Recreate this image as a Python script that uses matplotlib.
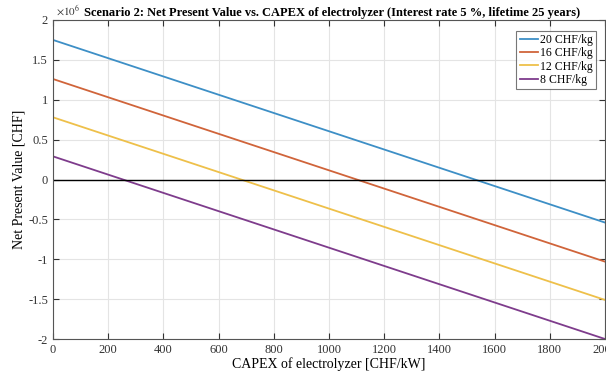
import matplotlib
matplotlib.use('Agg')
import matplotlib.pyplot as plt

plt.rcParams['font.family'] = ['Liberation Serif', 'DejaVu Serif']
plt.rcParams['mathtext.fontset'] = 'stix'

# CAPEX of electrolyzer [CHF/kW] and NPV [x1e6 CHF] at each end
capex = [0, 2000]
npv_20 = [1.75, -0.54]
npv_16 = [1.26, -1.03]
npv_12 = [0.78, -1.51]
npv_8 = [0.29, -2.00]
labels = ['20 CHF/kg', '16 CHF/kg', '12 CHF/kg', '8 CHF/kg']
colors = ['#3d8fc6', '#d0643a', '#eec04a', '#7e3c8c']

fig = plt.figure(figsize=(6.06, 3.75), dpi=100)
ax = fig.add_axes([53/606, 36/375, 552/606, 319/375])

for y, lab, c in zip([npv_20, npv_16, npv_12, npv_8], labels, colors):
    ax.plot(capex, y, color=c, lw=1.3, label=lab)
ax.axhline(0, color='black', lw=1.0)

ax.set_xlim(0, 2000)
ax.set_ylim(-2, 2)
ax.set_xticks(range(0, 2001, 200))
ax.set_yticks([-2, -1.5, -1, -0.5, 0, 0.5, 1, 1.5, 2])
ax.set_yticklabels(['-2', '-1.5', '-1', '-0.5', '0', '0.5', '1', '1.5', '2'])
ax.grid(True, color='#e4e4e4', lw=0.8)
ax.set_axisbelow(True)
ax.tick_params(direction='in', top=True, right=True, labelsize=9, colors='#333333', length=4)
for s in ax.spines.values():
    s.set_color('#555555')

ax.set_xlabel('CAPEX of electrolyzer [CHF/kW]', fontsize=10, labelpad=1)
ax.set_ylabel('Net Present Value [CHF]', fontsize=10, labelpad=2)
ax.text(0.005, 1.005, r'$\times10^6$', transform=ax.transAxes, fontsize=8, color='#333333', va='bottom')
ax.set_title('Scenario 2: Net Present Value vs. CAPEX of electrolyzer (Interest rate 5 %, lifetime 25 years)',
             fontsize=9, fontweight='bold', pad=3, x=0.505)

leg = ax.legend(loc='upper right', fontsize=8.5, frameon=True, fancybox=False, edgecolor='#555555',
                handlelength=1.5, handletextpad=0.2, borderpad=0.3, labelspacing=0.1,
                bbox_to_anchor=(0.995, 0.985))
leg.get_frame().set_linewidth(0.8)

fig.savefig('out.png', dpi=100)
